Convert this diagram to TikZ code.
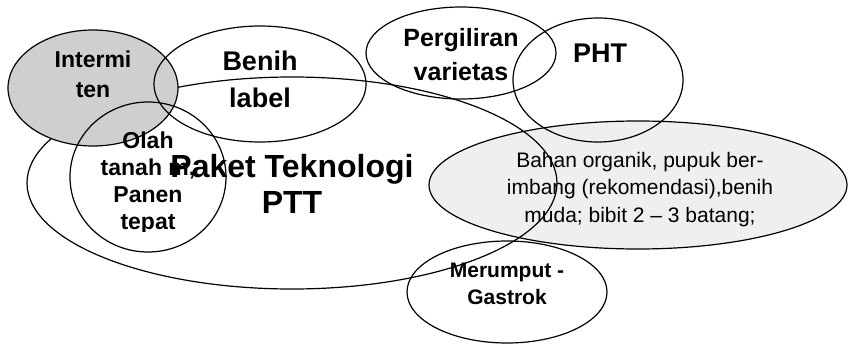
\documentclass[tikz,border=0pt]{standalone}
\usepackage{fontspec}
\setmainfont{Liberation Sans}
\usetikzlibrary{shapes.geometric}
\definecolor{darkfill}{HTML}{CFCFCF}
\definecolor{lightfill}{HTML}{EFEFEF}
\tikzset{
  bubble/.style={draw=black, line width=1.2pt, shape=ellipse, inner sep=0pt, outer sep=0pt},
  txt/.style={align=center, inner sep=0pt, anchor=base},
}
\begin{document}
\begin{tikzpicture}[x=1pt, y=-1pt]
\useasboundingbox[fill=white] (0,0) rectangle (848,345);
% ellipses
\node[bubble, fill=lightfill, minimum width=418pt, minimum height=128pt] (bahan) at (638,185) {};
\node[bubble, minimum width=530pt, minimum height=212pt] (paket) at (292,183) {};
\node[bubble, fill=darkfill, minimum width=170pt, minimum height=116pt] (intermi) at (93,88) {};
\node[bubble, minimum width=212pt, minimum height=116pt] (benih) at (260,84) {};
\node[bubble, minimum width=156pt, minimum height=150pt] (olah) at (148,177) {};
\node[bubble, minimum width=190pt, minimum height=92pt] (pergiliran) at (461,53) {};
\node[bubble, minimum width=170pt, minimum height=124pt] (pht) at (598,80) {};
\node[bubble, minimum width=200pt, minimum height=102pt] (merumput) at (507,292) {};
% texts (base anchor = baseline of the last line)
\node[txt, font=\fontsize{23pt}{30pt}\selectfont\bfseries] (tintermi) at (93,97) {Intermi\\ten};
\node[txt, font=\fontsize{27pt}{37pt}\selectfont\bfseries] (tbenih) at (260,107) {Benih\\label};
\begin{scope}
\clip (60,100) rectangle (240,231);
\node[txt, font=\fontsize{23pt}{27pt}\selectfont\bfseries] (tolah) at (148,229) {Olah\\tanah m,\\Panen\\tepat};
\end{scope}
\node[txt, font=\fontsize{32pt}{36pt}\selectfont\bfseries] (tpaket) at (292,213) {Paket Teknologi\\PTT};
\node[txt, font=\fontsize{25pt}{33pt}\selectfont\bfseries] (tperg) at (461,80) {Pergiliran\\varietas};
\node[txt, font=\fontsize{27pt}{33pt}\selectfont\bfseries] (tpht) at (600,63) {PHT};
\node[txt, font=\fontsize{21pt}{27.5pt}\selectfont] (tbahan) at (640,222) {Bahan organik, pupuk ber-\\imbang (rekomendasi),benih\\muda; bibit 2 – 3 batang;};
\node[txt, font=\fontsize{21pt}{27pt}\selectfont\bfseries] (tmer) at (507,304) {Merumput -\\Gastrok};
\end{tikzpicture}
\end{document}
